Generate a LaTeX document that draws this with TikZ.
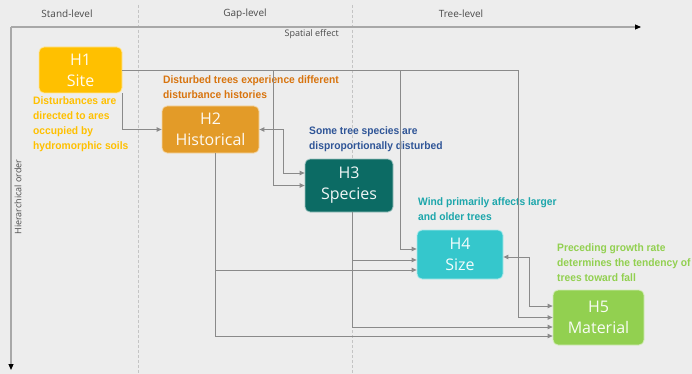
\documentclass[tikz,border=0pt]{standalone}
\usepackage{fontspec}
\setmainfont{Liberation Sans}
\newfontfamily\boxfont{Open Sans}
\newfontfamily\notefont[FakeStretch=0.95]{Liberation Sans}
\usetikzlibrary{arrows.meta}
\usetikzlibrary{backgrounds}

\definecolor{bg}{HTML}{EDEDED}
\definecolor{linegrey}{HTML}{8A8A8A}
\definecolor{axisgrey}{HTML}{A8A8A8}
\definecolor{sepgrey}{HTML}{C4C4C4}
\definecolor{headgrey}{HTML}{4A4A4A}
\definecolor{siteyellow}{HTML}{FFC000}
\definecolor{historange}{HTML}{E39B28}
\definecolor{histtext}{HTML}{D8740E}
\definecolor{speciesteal}{HTML}{0C6B64}
\definecolor{speciestext}{HTML}{2F5597}
\definecolor{sizecyan}{HTML}{35C7CC}
\definecolor{sizetext}{HTML}{1CA6AB}
\definecolor{matgreen}{HTML}{92D050}

\tikzset{
  hypbox/.style={rounded corners=5pt, draw=white!60!#1, fill=#1, line width=0.8pt,
    text=white!94!#1, font=\boxfont\fontsize{16}{21}\selectfont, align=center, inner sep=0pt},
  note/.style={anchor=north west, inner sep=0pt, align=left, text=#1,
    font=\notefont\bfseries\fontsize{10.8}{15}\selectfont},
  head/.style={text=headgrey, font=\boxfont\fontsize{10}{12}\selectfont, inner sep=0pt},
  conn/.style={draw=linegrey, line width=0.9pt, -{Triangle[length=5pt,width=4.5pt]}},
  twoway/.style={draw=linegrey, line width=0.9pt, {Triangle[length=5pt,width=4.5pt]}-{Triangle[length=5pt,width=4.5pt]}},
  axisline/.style={draw=axisgrey, line width=1.1pt},
  sepline/.style={draw=sepgrey, line width=0.6pt, densely dashed}
}

\begin{document}
\begin{tikzpicture}[x=1pt,y=-1pt]
\fill[bg] (0,0) rectangle (692,374);
\useasboundingbox (0,0) rectangle (692,374);

% level separators
\draw[sepline] (138,5) -- (138,374);
\draw[sepline] (352,5) -- (352,374);

% axes
\coordinate (origin) at (11,27);
\coordinate (xend) at (641,27);
\coordinate (yend) at (11,370);
\draw[axisline, -{Triangle[length=6pt,width=5pt,color=black]}] (origin) -- (xend);
\draw[axisline, -{Triangle[length=6pt,width=5pt,color=black]}] (origin) -- (yend);

\node[head] (stand) at (67,14) {Stand-level};
\node[head] (gap) at (245,14) {Gap-level};
\node[head] (tree) at (461,14) {Tree-level};
\node[head, anchor=east, font=\boxfont\fontsize{9}{11}\selectfont] (spatial) at (339,34) {Spatial effect};
\node[head, rotate=90, font=\boxfont\fontsize{9}{11}\selectfont] (hier) at (18,197) {Hierarchical order};

% hypotheses
\node[hypbox=siteyellow, minimum width=83pt, minimum height=46pt] (h1) at (80.5,70) {H1\\Site};
\node[hypbox=historange, minimum width=97pt, minimum height=47pt] (h2) at (210.5,129.5) {H2\\Historical};
\node[hypbox=speciesteal, minimum width=88pt, minimum height=53pt] (h3) at (349,185.5) {H3\\Species};
\node[hypbox=sizecyan, minimum width=86pt, minimum height=49pt] (h4) at (460,254.5) {H4\\Size};
\node[hypbox=matgreen, minimum width=91pt, minimum height=55pt] (h5) at (598.5,317.5) {H5\\Material};

% notes
\node[note=siteyellow] (n1) at (33,96.5) {Disturbances are\\directed to ares\\occupied by\\hydromorphic soils};
\node[note=histtext] (n2) at (163,75.5) {Disturbed trees experience different\\disturbance histories};
\node[note=speciestext] (n3) at (309,126.5) {Some tree species are\\disproportionally disturbed};
\node[note=sizetext] (n4) at (418,197.5) {Wind primarily affects larger\\and older trees};
\node[note=matgreen] (n5) at (557,243.5) {Preceding growth rate\\determines the tendency of\\trees toward fall};

% from H1
\draw[conn] (h1.south east) |- (h2.west);
\draw[conn] (h1.east) -| (273,185.5) -- (h3.west);
\draw[conn] (h1.east) -| (400,249) -- ([yshift=5.5pt]h4.west);
\draw[conn] (h1.east) -| (518,317.5) -- (h5.west);

% from H2
\draw[twoway] (h2.east) -- ++(24,0) |- ([yshift=12.5pt]h3.west);
\draw[conn] ([xshift=5pt]h2.south) |- ([yshift=-15.5pt]h4.west);
\draw[conn] ([xshift=5pt]h2.south) |- ([yshift=-18.5pt]h5.west);

% from H3
\draw[conn] ([xshift=3pt]h3.south) |- ([yshift=-5.5pt]h4.west);
\draw[conn] ([xshift=3pt]h3.south) |- ([yshift=-9.5pt]h5.west);

% from H4
\draw[twoway] ([yshift=-2.5pt]h4.east) -- ++(26,0) |- ([yshift=11.5pt]h5.west);
\end{tikzpicture}
\end{document}
